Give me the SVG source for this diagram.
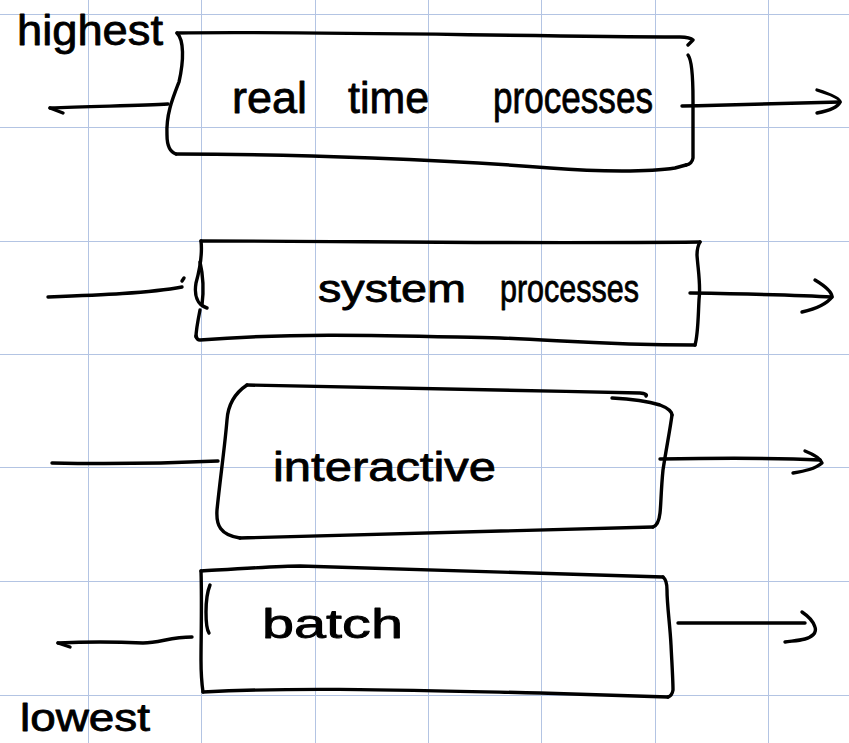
<svg xmlns="http://www.w3.org/2000/svg" width="849" height="743" viewBox="0 0 849 743">
  <style>
    .grid line { stroke: #b3c4e3; stroke-width: 1; }
    .ink { fill: none; stroke: #000; stroke-width: 3.4; stroke-linecap: round; stroke-linejoin: round; }
    .hand { font-family: "Liberation Sans", "DejaVu Sans", sans-serif; fill: #000; stroke: #000; stroke-width: 0.8; stroke-linejoin: round; }
  </style>

  <rect width="849" height="743" fill="#fff"/>

  <!-- squared paper -->
  <g class="grid" id="grid">
    <line x1="88.5" y1="0" x2="88.5" y2="743"/>
    <line x1="201.5" y1="0" x2="201.5" y2="743"/>
    <line x1="315.5" y1="0" x2="315.5" y2="743"/>
    <line x1="428.5" y1="0" x2="428.5" y2="743"/>
    <line x1="541.5" y1="0" x2="541.5" y2="743"/>
    <line x1="655.5" y1="0" x2="655.5" y2="743"/>
    <line x1="768.5" y1="0" x2="768.5" y2="743"/>
    <line x1="0" y1="14.5" x2="849" y2="14.5"/>
    <line x1="0" y1="127.5" x2="849" y2="127.5"/>
    <line x1="0" y1="241.5" x2="849" y2="241.5"/>
    <line x1="0" y1="354.5" x2="849" y2="354.5"/>
    <line x1="0" y1="467.5" x2="849" y2="467.5"/>
    <line x1="0" y1="581.5" x2="849" y2="581.5"/>
    <line x1="0" y1="695.5" x2="849" y2="695.5"/>
  </g>

  <!-- priority labels -->
  <g id="label-highest">
    <text class="hand" x="17" y="45" font-size="42" textLength="146" lengthAdjust="spacingAndGlyphs">highest</text>
  </g>
  <g id="label-lowest">
    <text class="hand" x="20" y="731" font-size="38" textLength="130" lengthAdjust="spacingAndGlyphs">lowest</text>
  </g>

  <!-- queue: real time processes -->
  <g id="node-realtime">
    <path class="ink" d="M177,33 C300,31 500,36 680,37 Q690,37 693,40 L688,45"/>
    <path class="ink" d="M177,33 C184,40 184,60 179,82 C172,100 166,115 167,135 C167,146 170,152 176,154"/>
    <path class="ink" d="M176,154 C300,154 450,160 550,168 C600,172 650,172 675,168 L686,165"/>
    <path class="ink" d="M688,55 C692,60 693,75 693,100 L693,158 Q692,164 686,165"/>
    <text class="hand" y="113" font-size="44"><tspan x="232" textLength="75" lengthAdjust="spacingAndGlyphs">real</tspan><tspan x="348" textLength="81" lengthAdjust="spacingAndGlyphs">time</tspan><tspan x="493" textLength="160" lengthAdjust="spacingAndGlyphs">processes</tspan></text>
  </g>

  <!-- queue: system processes -->
  <g id="node-system">
    <path class="ink" d="M201,241 C350,241 500,244 700,242"/>
    <path class="ink" d="M700,242 Q697,247 697,255 C698,270 701,285 699,300 C698,320 698,335 695,345"/>
    <path class="ink" d="M695,345 C600,345 560,340 500,338 C400,336 300,332 200,340 Q197,340 196,336"/>
    <path class="ink" d="M201,241 C202,250 201,265 196,283 C194,295 197,305 207,308"/>
    <path class="ink" d="M200,262 C203,275 204,290 202,305"/>
    <path class="ink" d="M200,310 C198,320 196,330 196,337"/>
    <text class="hand" y="302" font-size="38"><tspan x="318" textLength="148" lengthAdjust="spacingAndGlyphs">system</tspan><tspan x="500" textLength="139" lengthAdjust="spacingAndGlyphs">processes</tspan></text>
  </g>

  <!-- queue: interactive -->
  <g id="node-interactive">
    <path class="ink" d="M247,385 C235,393 228,405 227,420 C225,445 220,480 217,510 C216,525 220,535 240,538"/>
    <path class="ink" d="M247,385 C350,386 500,390 640,393 Q648,394 646,396"/>
    <path class="ink" d="M612,398 C630,399 650,402 660,405 C668,408 672,412 672,415"/>
    <path class="ink" d="M672,415 C670,430 666,450 663,470 C661,490 661,505 660,513 C659,522 656,526 653,527"/>
    <path class="ink" d="M240,538 C350,534 500,531 653,527"/>
    <text class="hand" x="273" y="481" font-size="40" textLength="223" lengthAdjust="spacingAndGlyphs">interactive</text>
  </g>

  <!-- queue: batch -->
  <g id="node-batch">
    <path class="ink" d="M201,571 C250,568 280,566 300,566 C400,568 500,572 663,577"/>
    <path class="ink" d="M663,577 Q667,580 667,590 C667,605 670,625 671,645 C672,665 673,680 673,690 Q672,696 668,697"/>
    <path class="ink" d="M668,697 C600,695 560,694 540,693 C400,690 300,687 203,692"/>
    <path class="ink" d="M201,571 C202,600 201,640 201,660 C201,675 202,685 203,692"/>
    <path class="ink" d="M210,585 C208,590 206,600 206,612 C206,622 207,630 209,633"/>
    <text class="hand" x="262" y="638" font-size="40" textLength="141" lengthAdjust="spacingAndGlyphs">batch</text>
  </g>

  <!-- incoming and outgoing arrows of each queue -->
  <g id="connectors">
    <path class="ink" d="M50,108 C90,106 140,106 168,104"/>
    <path class="ink" d="M50,108 L63,113"/>
    <path class="ink" d="M682,106 C740,105 800,103 840,102"/>
    <path class="ink" d="M817,90 C830,94 840,98 840,102 C838,107 828,111 817,113"/>

    <path class="ink" d="M48,297 C100,295 150,293 182,287"/>
    <path class="ink" d="M182,281 L184,278"/>
    <path class="ink" d="M690,293 C750,294 800,295 832,297"/>
    <path class="ink" d="M815,280 C825,286 832,292 832,297 C826,305 815,309 802,312"/>

    <path class="ink" d="M52,463 C100,464 150,464 218,461"/>
    <path class="ink" d="M660,459 C720,458 780,458 820,460"/>
    <path class="ink" d="M805,451 C815,455 821,459 822,463 C815,469 805,471 793,473"/>

    <path class="ink" d="M58,643 C80,642 120,642 143,643 C160,643 170,637 192,637"/>
    <path class="ink" d="M58,643 L70,647"/>
    <path class="ink" d="M678,623 C720,623 760,623 805,623"/>
    <path class="ink" d="M802,612 C808,616 813,620 815,627 C817,633 812,637 805,639 C798,641 790,641 785,642"/>
  </g>
</svg>
